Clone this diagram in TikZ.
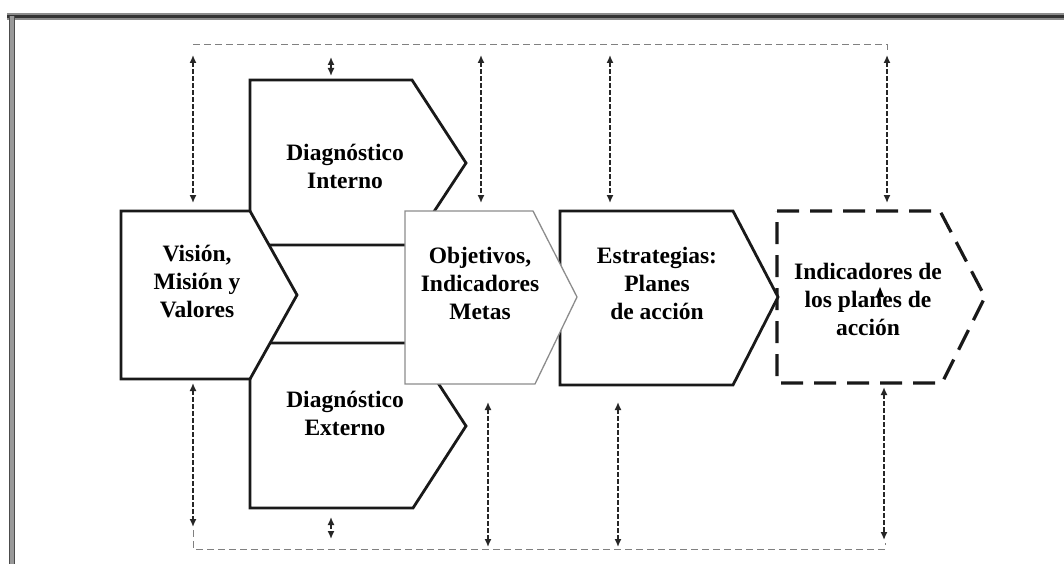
\documentclass[tikz,border=0pt]{standalone}
\usepackage{fontspec}
\setmainfont{Liberation Serif}
\usetikzlibrary{arrows.meta}

\begin{document}
\begin{tikzpicture}[x=1pt,y=-1pt,
  stagebox/.style={draw=black!90, line width=2.8pt, fill=white, line join=miter},
  lightbox/.style={draw=black!45, line width=1.3pt, fill=white, line join=miter},
  dashbox/.style={draw=black!90, line width=3.2pt, fill=white, dash pattern=on 22pt off 11pt},
  label/.style={font=\fontsize{23.5}{28}\selectfont\bfseries, align=center, text=black, inner sep=0pt},
  feedback/.style={draw=black!85, line width=1.5pt, dash pattern=on 4.5pt off 2.5pt,
    arrows={Latex[length=8pt,width=7pt]-Latex[length=8pt,width=7pt]}},
  loopline/.style={draw=black!50, line width=1pt, dash pattern=on 7pt off 4pt}]

\useasboundingbox (0,0) rectangle (1064,564);

% outer frame (top and left edges only)
\draw[black!45, line width=7pt] (7,16.5) -- (1064,16.5);
\draw[black!80, line width=2.2pt] (7,16.5) -- (1064,16.5);
\draw[black!40, line width=6pt] (12,16.5) -- (12,564);
\draw[black!70, line width=1.3pt] (9.5,16.5) -- (9.5,564);
\draw[black!70, line width=1.3pt] (14.5,16.5) -- (14.5,564);

% feedback loop lines
\draw[loopline] (193,45) -- (887,45) -- (887,50);
\draw[loopline] (193,530) -- (193,549) -- (885,549) -- (885,543);

% diagnostics
\draw[stagebox] (250,80) -- (412,80) -- (466,163) -- (412,245) -- (250,245) -- cycle;
\draw[stagebox] (250,343) -- (412,343) -- (466,426) -- (413,508) -- (250,508) -- cycle;
% vision
\draw[stagebox] (121,211) -- (250,211) -- (297,295) -- (250,379) -- (121,379) -- cycle;
% indicators of the action plans
\draw[dashbox] (777,211) -- (940,211) -- (985,297) -- (942,383) -- (777,383) -- cycle;
% strategies
\draw[stagebox] (560,211) -- (733,211) -- (778,297) -- (733,385) -- (560,385) -- cycle;
% objectives
\draw[lightbox] (405,211) -- (533,211) -- (577,297) -- (535,384) -- (405,384) -- cycle;

% labels
\node[label] (vis) at (197,282) {Visión,\\Misión y\\Valores};
\node[label] (dint) at (345,166) {Diagnóstico\\Interno};
\node[label] (dext) at (345,413) {Diagnóstico\\Externo};
\node[label] (obj) at (480,283) {Objetivos,\\Indicadores\\Metas};
\node[label] (est) at (657,283) {Estrategias:\\Planes\\de acción};
\node[label] (ind) at (868,299) {Indicadores de\\los planes de\\acción};
\fill[black] (876,297) -- (880,287) -- (884,297) -- cycle;

% feedback arrow end points
\coordinate (t1a) at (193,55);  \coordinate (t1b) at (193,203);
\coordinate (t2a) at (331,57);  \coordinate (t2b) at (331,76);
\coordinate (t3a) at (481,55);  \coordinate (t3b) at (481,203);
\coordinate (t4a) at (610,55);  \coordinate (t4b) at (610,203);
\coordinate (t5a) at (887,55);  \coordinate (t5b) at (887,203);
\coordinate (b1a) at (193,383); \coordinate (b1b) at (193,527);
\coordinate (b2a) at (331,517); \coordinate (b2b) at (331,539);
\coordinate (b3a) at (488,402); \coordinate (b3b) at (488,547);
\coordinate (b4a) at (618,402); \coordinate (b4b) at (618,547);
\coordinate (b5a) at (884,387); \coordinate (b5b) at (884,540);

\foreach \p in {t1,t2,t3,t4,t5,b1,b2,b3,b4,b5}
  \draw[feedback] (\p a) -- (\p b);
\end{tikzpicture}
\end{document}
